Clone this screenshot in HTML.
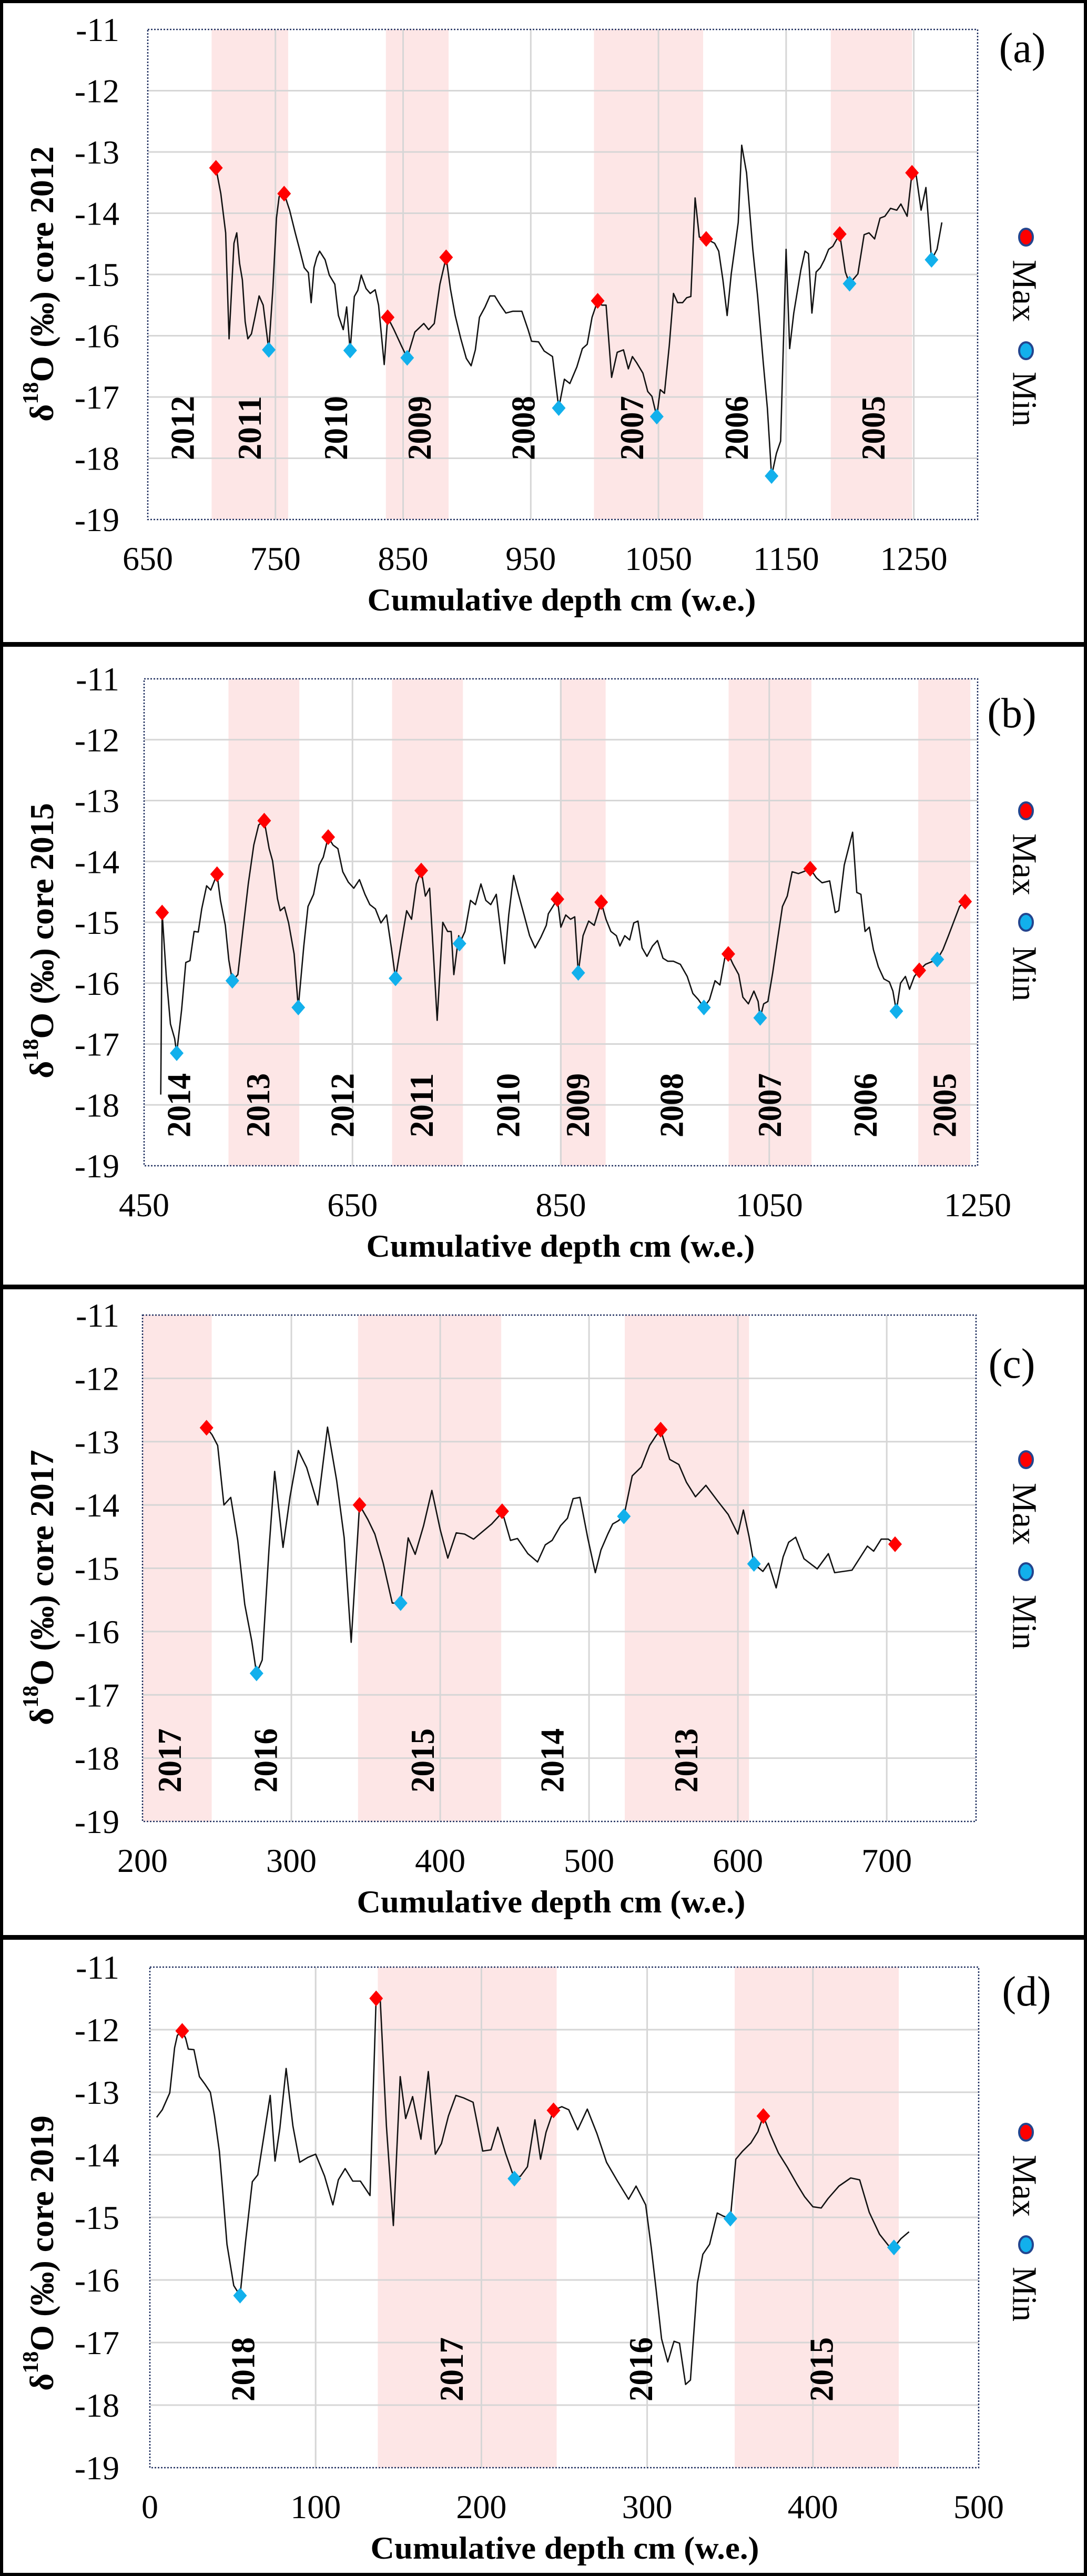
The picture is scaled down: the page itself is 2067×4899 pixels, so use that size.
<!DOCTYPE html>
<html><head><meta charset="utf-8"><style>
html,body{margin:0;padding:0;background:#fff;}
svg{display:block;}
</style></head><body>
<svg id="fig" xmlns="http://www.w3.org/2000/svg" width="2067" height="4899" viewBox="0 0 2067 4899"></svg>
<script>
// ---- Panel (a) core 2012 ----
const aX=[703.4,707.2,711,713.7,717.5,719.7,721.9,724.1,726.3,728.4,731.2,733.9,737.2,740.4,744.8,748,750.8,752.9,756.8,761.1,765.5,769.3,772.6,775.8,778,780.2,782.4,784.6,788.9,792.2,796.5,799.3,803.1,805.8,808.5,811.8,814.5,817.2,821,824.3,828.1,830.8,835.2,837.9,842.8,848.8,853.2,859.2,866.2,870,874.4,878.8,883.7,887,890.8,895.1,899.5,903.3,906.6,909.8,914.2,918,921.8,926.2,930.5,936,943,947.9,950.6,956.1,960.5,967,971.9,976.3,980.6,986.1,990.4,994.2,998,1002.4,1005.7,1009,1013.3,1017.7,1022.6,1026.4,1029.6,1032.9,1037.8,1041.6,1044.9,1048.7,1051.4,1054.7,1058.5,1061.8,1065,1068.9,1072.1,1075.4,1078.7,1082,1087.4,1094,1097.2,1100.5,1103.8,1107,1110.3,1112.5,1115.2,1119,1123.9,1127.7,1132.1,1135.3,1138.6,1142.4,1145.7,1150,1152.8,1156,1161.5,1164.8,1167.5,1170.2,1173.5,1176.8,1180,1183.3,1186.6,1192,1196.4,1199.7,1206.2,1211.1,1214.9,1219.3,1223.6,1227.4,1231.8,1236.7,1239.9,1244.8,1248.6,1251.9,1255.7,1259.5,1263.9,1268.2,1272];
const aY=[-13.26,-13.68,-14.32,-16.05,-14.49,-14.32,-14.82,-15.09,-15.77,-16.05,-15.97,-15.70,-15.35,-15.50,-16.23,-15.23,-14.08,-13.73,-13.68,-13.95,-14.32,-14.62,-14.89,-14.97,-15.46,-14.89,-14.72,-14.62,-14.76,-15.01,-15.16,-15.67,-15.90,-15.53,-16.24,-15.36,-15.26,-15.01,-15.23,-15.31,-15.25,-15.50,-16.47,-15.70,-15.90,-16.17,-16.36,-15.94,-15.80,-15.90,-15.80,-15.16,-14.72,-15.23,-15.67,-16.04,-16.37,-16.49,-16.23,-15.70,-15.53,-15.35,-15.35,-15.50,-15.63,-15.60,-15.60,-15.90,-16.09,-16.10,-16.25,-16.34,-17.18,-16.71,-16.78,-16.51,-16.21,-16.14,-15.70,-15.43,-15.50,-15.50,-16.68,-16.27,-16.23,-16.54,-16.34,-16.44,-16.61,-16.91,-16.99,-17.32,-16.88,-16.94,-16.16,-15.31,-15.46,-15.46,-15.38,-15.36,-13.75,-14.39,-14.42,-14.49,-14.62,-15.09,-15.67,-14.99,-14.49,-14.15,-12.89,-13.34,-14.59,-15.36,-16.44,-17.18,-18.29,-17.92,-17.72,-14.59,-16.21,-15.63,-14.93,-14.62,-14.66,-15.63,-14.96,-14.89,-14.76,-14.59,-14.54,-14.34,-14.96,-15.15,-14.99,-14.35,-14.32,-14.42,-14.08,-14.05,-13.92,-13.95,-13.85,-14.05,-13.34,-13.38,-13.95,-13.58,-14.76,-14.59,-14.15];
const aMaxX=[703.4,756.8,837.9,883.7,1002.4,1087.4,1192,1248.6];
const aMaxY=[-13.26,-13.68,-15.70,-14.72,-15.43,-14.42,-14.34,-13.34];
const aMinX=[744.8,808.5,853.2,971.9,1048.7,1138.6,1199.7,1263.9];
const aMinY=[-16.23,-16.24,-16.36,-17.18,-17.32,-18.29,-15.15,-14.76];
const aBandStart=[700,836.5,999.5,1185];
const aBandEnd=[760,885.6,1085,1248.7];
const aYears=['2012','2011','2010','2009','2008','2007','2006','2005'];
const aYearX=[677,729.5,797,862.5,944,1029,1111,1218];
const aXTicks=[650,750,850,950,1050,1150,1250];

// ---- Panel (b) core 2015 ----
const bX=[466,467.3,471.3,475.3,479.3,481.3,486,490,494,498,502,505.3,510,514,520,523.3,528,531.3,534.7,540,544.7,550,555.3,560,565.3,570,573.3,578,580.7,584.7,588.7,594,598,603.3,607.3,612.7,618,622,626.7,631.3,636,640.7,646,651.3,656.7,662,666.7,672,677.3,682.7,687.3,691.3,696.7,702,706.7,711.3,716,720,724,728,731.3,736.7,741.3,744.7,747.3,752,752.7,758,763.3,768,773.3,778,782.7,788,796,800,804.7,809.3,814.7,820,825.3,830.7,836,838,846.7,850,854.7,859.3,863.3,866.7,871.3,876.7,882,888.7,893.3,898,903.3,906.7,911.3,916,920,924,928,932.7,938,942.7,948,952.7,958,964.7,971.3,976.7,982,987.3,992.7,998,1002.7,1007.3,1010.7,1015.3,1020.7,1024.7,1030,1035.3,1039.3,1041.3,1044.7,1048.7,1053.3,1058,1062.7,1067.3,1072,1078,1082.7,1089.3,1095.3,1100.7,1108,1113.3,1116.7,1122,1126,1130,1134,1138,1142,1146,1150,1154.7,1160,1165.3,1168.7,1172,1176,1180.7,1184.7,1189.3,1194,1200,1211.3,1216.7,1222,1228,1232.7,1238];
const bY=[-17.83,-14.84,-15.89,-16.67,-16.91,-17.15,-16.44,-15.66,-15.63,-15.15,-15.16,-14.78,-14.40,-14.47,-14.21,-14.64,-15.05,-15.62,-15.96,-15.86,-15.15,-14.37,-13.73,-13.40,-13.33,-13.79,-13.99,-14.61,-14.81,-14.75,-15.01,-15.52,-16.40,-15.39,-14.74,-14.54,-14.06,-13.93,-13.60,-13.73,-13.79,-14.17,-14.34,-14.44,-14.30,-14.54,-14.71,-14.78,-15.01,-14.88,-15.42,-15.92,-15.35,-14.81,-14.95,-14.37,-14.15,-14.57,-14.44,-15.62,-16.61,-15.00,-15.15,-15.15,-15.86,-15.22,-15.35,-15.15,-14.64,-14.71,-14.37,-14.64,-14.71,-14.54,-15.68,-14.88,-14.23,-14.54,-14.88,-15.22,-15.42,-15.25,-15.05,-14.86,-14.62,-15.08,-14.88,-14.95,-14.91,-15.83,-15.22,-14.98,-15.05,-14.67,-14.95,-15.15,-15.22,-15.39,-15.22,-15.29,-15.01,-14.98,-15.42,-15.56,-15.39,-15.30,-15.59,-15.64,-15.64,-15.69,-15.89,-16.17,-16.27,-16.40,-16.27,-15.96,-16.03,-15.59,-15.52,-15.69,-15.86,-16.23,-16.34,-16.13,-16.30,-16.57,-16.34,-16.30,-15.83,-15.28,-14.74,-14.57,-14.17,-14.20,-14.17,-14.12,-14.27,-14.35,-14.32,-14.84,-14.81,-14.06,-13.79,-13.52,-14.51,-14.54,-15.15,-15.08,-15.45,-15.73,-15.93,-15.98,-16.13,-16.46,-16.00,-15.89,-16.10,-15.89,-15.79,-15.69,-15.61,-15.45,-15.22,-14.95,-14.74,-14.66];
const bMaxX=[467.3,520,565.3,626.7,716,846.7,888.7,1010.7,1089.3,1194,1238];
const bMaxY=[-14.84,-14.21,-13.33,-13.60,-14.15,-14.62,-14.67,-15.52,-14.12,-15.79,-14.66];
const bMinX=[481.3,534.7,598,691.3,752.7,866.7,987.3,1041.3,1172,1211.3];
const bMinY=[-17.15,-15.96,-16.40,-15.92,-15.35,-15.83,-16.40,-16.57,-16.46,-15.61];
const bBandStart=[531,688,849,1011,1193];
const bBandEnd=[599,756,893,1090.5,1243];
const bYears=['2014','2013','2012','2011','2010','2009','2008','2007','2006','2005'];
const bYearX=[483,559,640,716,799,866,956,1050,1142,1218];
const bXTicks=[450,650,850,1050,1250];

// ---- Panel (c) core 2017 ----
const cX=[243,246.7,250.5,254.7,259.3,264,268.7,273.4,276.6,280.4,285,288.8,294.4,299.1,304.7,310.3,317.8,324.3,330.4,335.5,340.2,345.8,351.4,356.1,361.7,367.8,373.4,378.5,383.2,388.8,394.4,400,405.1,410.8,416.4,422.4,428,434.6,439.3,441.6,447.2,451.9,458.9,465.4,470.6,475.2,480.8,485.5,489.3,493.9,499.1,504.2,508,512.6,515.9,519.6,523.4,529,535.1,540.7,544.9,548.1,554.2,560.3,565.4,571.5,578.5,586.5,593.5,600,603.7,607.5,610.8,616.8,620.6,625.7,630.4,634.1,638.8,644.4,653.3,660.8,665,676.7,687,691.2,696.3,701,705.6];
const cY=[-12.78,-12.89,-13.06,-14.00,-13.88,-14.56,-15.57,-16.15,-16.66,-16.45,-14.69,-13.47,-14.67,-13.87,-13.14,-13.41,-14.00,-12.77,-13.61,-14.52,-16.17,-14.00,-14.23,-14.46,-14.92,-15.55,-15.55,-14.52,-14.78,-14.33,-13.77,-14.39,-14.84,-14.44,-14.46,-14.54,-14.43,-14.30,-14.18,-14.10,-14.56,-14.53,-14.77,-14.90,-14.63,-14.56,-14.33,-14.21,-13.90,-13.88,-14.52,-15.07,-14.71,-14.46,-14.30,-14.25,-14.18,-13.54,-13.40,-13.06,-12.91,-12.81,-13.28,-13.36,-13.64,-13.87,-13.69,-13.94,-14.15,-14.46,-14.08,-14.50,-14.93,-15.05,-14.92,-15.31,-14.82,-14.59,-14.51,-14.85,-15.01,-14.77,-15.07,-15.03,-14.65,-14.73,-14.54,-14.54,-14.62];
const cMaxX=[243,345.8,441.6,548.1,705.6];
const cMaxY=[-12.78,-14.00,-14.10,-12.81,-14.62];
const cMinX=[276.6,373.4,523.4,610.8];
const cMinY=[-16.66,-15.55,-14.18,-14.93];
const cBandStart=[200,344.8,524];
const cBandEnd=[246.5,441,607.5];
const cYears=['2017','2016','2015','2014','2013'];
const cYearX=[218,282.5,388,475,565];
const cXTicks=[200,300,400,500,600,700];

// ---- Panel (d) core 2019 ----
const dX=[4.1,7.5,12,14.9,16.6,19.5,21.6,23.2,26.6,29.9,33.2,36.5,39,41.9,44,46.5,50.6,54.4,57.7,61.8,65.1,68.9,72.6,75.5,78.4,82.2,86.3,90.4,95.4,100,105.4,110.4,113.7,117.8,122.4,127,132.8,136.5,139,142.7,146.9,151,154.3,158.5,163.5,168,172.2,175.9,180.1,184.6,189.2,195,200.8,205.8,209.9,214.5,219.9,223.6,227.8,232.3,235.7,239,243.5,248.5,252.7,258.1,263.9,269.7,275.5,282.1,288.8,293.3,299.1,302.5,305.4,308.7,312.4,316.2,319.5,323.2,326.1,330.3,333.6,337.7,342.3,346,350.2,353.5,357.6,362.6,366.8,370.1,374.2,379.2,384.6,390.4,395,400,405,409.1,415.7,422.8,428.2,434,440.2,445.6,448.9,453.1,458];
const dY=[-13.40,-13.28,-13.01,-12.29,-12.09,-12.02,-12.14,-12.31,-12.32,-12.75,-12.87,-13.00,-13.38,-13.94,-14.60,-15.43,-16.09,-16.25,-15.39,-14.43,-14.32,-13.68,-13.05,-14.10,-13.58,-12.62,-13.54,-14.12,-14.04,-13.99,-14.34,-14.80,-14.40,-14.22,-14.42,-14.42,-14.65,-11.50,-11.53,-13.54,-15.13,-12.75,-13.42,-13.07,-13.75,-12.67,-13.99,-13.82,-13.38,-13.05,-13.09,-13.16,-13.94,-13.92,-13.56,-13.97,-14.38,-14.34,-14.19,-13.44,-14.07,-13.64,-13.29,-13.23,-13.28,-13.60,-13.27,-13.66,-14.12,-14.42,-14.71,-14.50,-14.80,-15.49,-16.15,-16.94,-17.31,-16.98,-17.01,-17.67,-17.60,-16.05,-15.59,-15.43,-14.93,-14.98,-15.02,-14.07,-13.94,-13.81,-13.63,-13.38,-13.67,-13.97,-14.20,-14.47,-14.67,-14.83,-14.85,-14.70,-14.50,-14.37,-14.40,-14.92,-15.27,-15.45,-15.48,-15.34,-15.23];
const dMaxX=[19.5,136.5,243.5,370.1];
const dMaxY=[-12.02,-11.50,-13.29,-13.38];
const dMinX=[54.4,219.9,350.2,448.9];
const dMinY=[-16.25,-14.38,-15.02,-15.48];
const dBandStart=[137.5,352.8];
const dBandEnd=[245.4,451.8];
const dYears=['2018','2017','2016','2015'];
const dYearX=[56,181.8,296,405];
const dXTicks=[0,100,200,300,400,500];

const yTicks=[-11,-12,-13,-14,-15,-16,-17,-18,-19];

const NS='http://www.w3.org/2000/svg';
const svg=document.getElementById('fig');
function mk(tag,attrs,parent){const e=document.createElementNS(NS,tag);for(const k in attrs)e.setAttribute(k,attrs[k]);(parent||svg).appendChild(e);return e;}

const panels=[
 {id:'a',core:'2012',top:0,bot:1224,px0:281,px1:1859,py0:56,py1:988,xmin:650,xmax:1300,X:aX,Y:aY,mx:aMaxX,my:aMaxY,nx:aMinX,ny:aMinY,bs:aBandStart,be:aBandEnd,yr:aYears,yx:aYearX,xt:aXTicks,labX:1944,labY:118,legMax:451,legMaxT:553,legMin:667,legMinT:759,yearBase:875,titleCY:540,xtX:1068},
 {id:'b',core:'2015',top:1224,bot:2446,px0:274,px1:1859,py0:1291,py1:2217,xmin:450,xmax:1250,X:bX,Y:bY,mx:bMaxX,my:bMaxY,nx:bMinX,ny:bMinY,bs:bBandStart,be:bBandEnd,yr:bYears,yx:bYearX,xt:bXTicks,labX:1924,labY:1383,legMax:1542,legMaxT:1644,legMin:1754,legMinT:1852,yearBase:2163,titleCY:1789,xtX:1066},
 {id:'c',core:'2017',top:2446,bot:3683,px0:271,px1:1856,py0:2501,py1:3464,xmin:200,xmax:760,X:cX,Y:cY,mx:cMaxX,my:cMaxY,nx:cMinX,ny:cMinY,bs:cBandStart,be:cBandEnd,yr:cYears,yx:cYearX,xt:cXTicks,labX:1924,labY:2620,legMax:2776,legMaxT:2879,legMin:2989,legMinT:3085,yearBase:3409,titleCY:3019,xtX:1048},
 {id:'d',core:'2019',top:3683,bot:4896,px0:285,px1:1861,py0:3741,py1:4693,xmin:0,xmax:500,X:dX,Y:dY,mx:dMaxX,my:dMaxY,nx:dMinX,ny:dMinY,bs:dBandStart,be:dBandEnd,yr:dYears,yx:dYearX,xt:dXTicks,labX:1952,labY:3814,legMax:4055,legMaxT:4157,legMin:4269,legMinT:4363,yearBase:4567,titleCY:4285,xtX:1074}
];

panels.forEach(p=>{
 const sx=v=>p.px0+(v-p.xmin)/(p.xmax-p.xmin)*(p.px1-p.px0);
 const sy=v=>p.py0+(-11-v)/8*(p.py1-p.py0);
 const g=mk('g',{});
 
 
 const frame=mk('rect',{x:3,y:p.top+3,width:2061,height:p.bot-p.top-3,fill:'none',stroke:'#000','stroke-width':6},g);
 
 
 p.bs.forEach((s,i)=>{
  const r=mk('rect',{x:sx(s),y:p.py0,width:sx(p.be[i])-sx(s),height:p.py1-p.py0,fill:'#fde6e6'},g);
  
  
 });
 yTicks.forEach(t=>{
  if(t<-11&&t>-19){
   const l=mk('line',{x1:p.px0,x2:p.px1,y1:sy(t),y2:sy(t),stroke:'#d6d6d6','stroke-width':3},g);
   
   
  }
  const tx=mk('text',{x:227,y:sy(t)+22,'text-anchor':'end','font-family':'Liberation Serif, serif','font-size':64,fill:'#000'},g);
  tx.textContent=String(t);
  
  
 });
 p.xt.forEach(t=>{
  if(t>p.xmin&&t<p.xmax){
   const l=mk('line',{x1:sx(t),x2:sx(t),y1:p.py0,y2:p.py1,stroke:'#d6d6d6','stroke-width':3},g);
   
   
  }
  const tx=mk('text',{x:sx(t),y:p.py1+96,'text-anchor':'middle','font-family':'Liberation Serif, serif','font-size':64,fill:'#000'},g);
  tx.textContent=String(t);
  
  
 });
 const border=mk('rect',{x:p.px0,y:p.py0,width:p.px1-p.px0,height:p.py1-p.py0,fill:'none',stroke:'#1f2f5f','stroke-width':2.5,'stroke-dasharray':'3,3'},g);
 
 
 p.yr.forEach((y,i)=>{
  const x=sx(p.yx[i])+22, yb=p.yearBase;
  const tx=mk('text',{x:x,y:yb,transform:`rotate(-90 ${x} ${yb})`,'font-family':'Liberation Serif, serif','font-weight':'bold','font-size':64,textLength:122,lengthAdjust:'spacingAndGlyphs',fill:'#000'},g);
  tx.textContent=y;
  
  
 });
 const pts=p.X.map((x,i)=>sx(x).toFixed(1)+','+sy(p.Y[i]).toFixed(1)).join(' ');
 const pl=mk('polyline',{points:pts,fill:'none',stroke:'#111','stroke-width':2.6,'stroke-linejoin':'round'},g);
 
 
 const dia=(cx,cy,col,name)=>{
  const m=mk('polygon',{points:`${cx},${cy-15} ${cx+13},${cy} ${cx},${cy+15} ${cx-13},${cy}`,fill:col},g);
  
  
 };
 p.mx.forEach((x,i)=>dia(sx(x),sy(p.my[i]),'#ff0000','max-marker'));
 p.nx.forEach((x,i)=>dia(sx(x),sy(p.ny[i]),'#12b0ec','min-marker'));
 const cy=p.titleCY;
 const yt=mk('text',{x:79,y:cy,transform:`rotate(-90 79 ${cy})`,'text-anchor':'middle','dominant-baseline':'central','font-family':'Liberation Serif, serif','font-weight':'bold','font-size':64,fill:'#000'},g);
 yt.innerHTML='δ<tspan font-size="42" dy="-20">18</tspan><tspan dy="20">O (‰) core '+p.core+'</tspan>';
 
 
 const xt=mk('text',{x:p.xtX,y:p.py1+173,'text-anchor':'middle','font-family':'Liberation Serif, serif','font-weight':'bold','font-size':60,textLength:739,lengthAdjust:'spacingAndGlyphs',fill:'#000'},g);
 xt.textContent='Cumulative depth cm (w.e.)';
 
 
 const lb=mk('text',{x:p.labX,y:p.labY,'text-anchor':'middle','font-family':'Liberation Serif, serif','font-size':80,fill:'#000'},g);
 lb.textContent='('+p.id+')';
 
 
 const c1=mk('ellipse',{cx:1951,cy:p.legMax,rx:13,ry:16,fill:'#ff0000',stroke:'#23458f','stroke-width':4},g);
 
 
 const t1=mk('text',{x:1948,y:p.legMaxT,transform:`rotate(90 1948 ${p.legMaxT})`,'text-anchor':'middle','dominant-baseline':'central','font-family':'Liberation Serif, serif','font-size':66,textLength:118,lengthAdjust:'spacingAndGlyphs',fill:'#000'},g);
 t1.textContent='Max';
 
 
 const c2=mk('ellipse',{cx:1951,cy:p.legMin,rx:13,ry:16,fill:'#12b0ec',stroke:'#23458f','stroke-width':4},g);
 
 
 const t2=mk('text',{x:1948,y:p.legMinT,transform:`rotate(90 1948 ${p.legMinT})`,'text-anchor':'middle','dominant-baseline':'central','font-family':'Liberation Serif, serif','font-size':66,textLength:104,lengthAdjust:'spacingAndGlyphs',fill:'#000'},g);
 t2.textContent='Min';
 
 
});
</script>
</body></html>
